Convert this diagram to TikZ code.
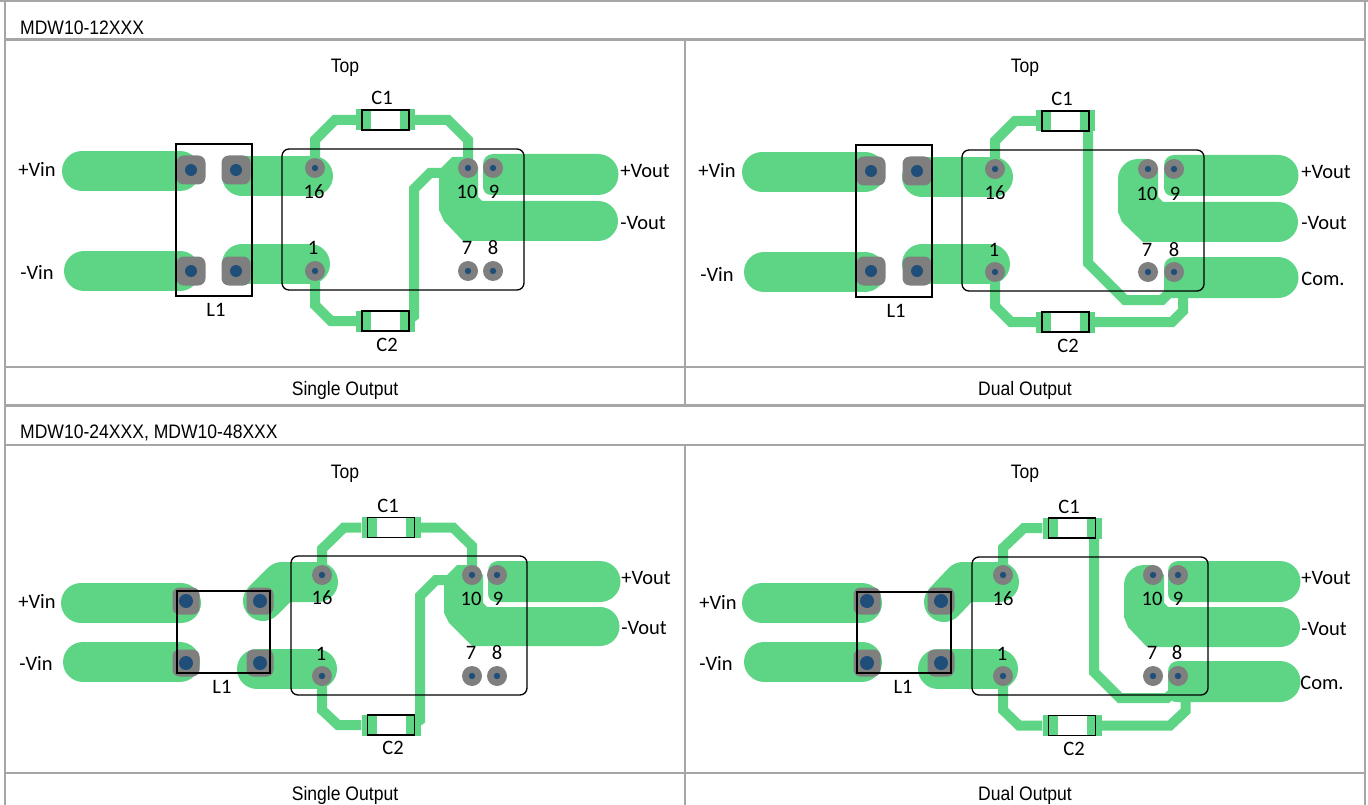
\documentclass[tikz,border=0pt]{standalone}
\usepackage{fontspec}
\usepackage{xcolor}
\setmainfont[FakeStretch=0.9]{Liberation Sans}
\newfontfamily\labelfont{Carlito}
\definecolor{pcbgreen}{HTML}{5DD585}
\definecolor{padgray}{HTML}{7F7F7F}
\definecolor{viablue}{HTML}{1F4E79}
\definecolor{gridgray}{HTML}{A6A6A6}
\tikzset{
  gridline/.style={draw=gridgray, line width=2.2pt},
  tabletext/.style={font=\fontsize{19.5}{21}\selectfont, inner sep=0pt},
  pcblabel/.style={font=\labelfont\fontsize{20.5}{22}\selectfont, inner sep=0pt},
  padtrack/.style={draw=pcbgreen, line width=40pt, line cap=round, line join=round},
  track/.style={draw=pcbgreen, line width=10pt, line join=miter},
  pinpad/.style={circle, fill=padgray, minimum size=20pt, inner sep=0pt},
  sqpad/.style={rectangle, fill=padgray, inner sep=0pt},
  capbody/.style={rectangle, draw=black, line width=1.3pt, minimum width=47pt, minimum height=20pt, inner sep=0pt},
  capend/.style={rectangle, fill=pcbgreen, minimum width=15pt, minimum height=21pt, inner sep=0pt},
  outline/.style={draw=black, line width=1.3pt}
}
\newcommand{\pinhole}[1]{\node[pinpad] (#1p) at (#1) {}; \fill[viablue] (#1p) circle (3.2);}
\newcommand{\padhole}[4]{\node[sqpad, minimum size=#3pt, rounded corners=#3pt/4] (#1) at (#2) {}; \fill[viablue] (#1) circle (#4);}
\newcommand{\capends}[2]{\node[capend, xshift=-22pt] (#1l) at (#2) {}; \node[capend, xshift=22pt] (#1r) at (#2) {};}
\newcommand{\outpad}[3]{\fill[pcbgreen] (#1,#2+10) arc[start angle=180, end angle=270, radius=10] -- (#3,#2) arc[start angle=-90, end angle=90, radius=20.5] -- (#1+8,#2+41) arc[start angle=90, end angle=180, radius=8] -- cycle;}

\begin{document}
\begin{tikzpicture}[x=1pt, y=-1pt]
\useasboundingbox (0,0) rectangle (1368,805);

\coordinate (a16) at (315,168);
\coordinate (a1) at (315,271);
\coordinate (a10) at (468,168);
\coordinate (a9) at (493,168);
\coordinate (a7) at (468,271);
\coordinate (a8) at (493,271);
\coordinate (ac1) at (385.5,120);
\coordinate (ac2) at (385.5,321);
\draw[padtrack] (82,171) -- (180,171);
\draw[padtrack] (84,271) -- (180,271);
\draw[padtrack] (242,176) -- (313,176);
\draw[padtrack] (242,264) -- (310,264);
\capends{ac1}{ac1}
\capends{ac2}{ac2}
\draw[track] (a16) -- (315,140) -- (335,120) -- (ac1l);
\draw[track] (ac1r) -- (448,120) -- (468,140) -- (a10);
\draw[track] (a1) -- (315,305) -- (331,321) -- (ac2l);
\draw[track] (ac2r.center) -- (414,316) -- (414,189) -- (430,173) -- (445,173);
\outpad{483}{154}{598}
\fill[pcbgreen] (478,168) -- (478,197) -- (482,201) -- (598,201) arc[start angle=-90, end angle=90, radius=20] -- (463,241) -- (444,221) -- (439,210) -- (439,170) -- (452,157) -- (468,157) -- cycle;
\foreach \p in {a16,a1,a10,a9,a7,a8} {\pinhole{\p}}
\padhole{apad1}{191,170}{29}{6}
\padhole{apad2}{236,170}{29}{6}
\padhole{apad3}{191,271}{29}{6}
\padhole{apad4}{236,271}{29}{6}
\draw[outline] (176,144) rectangle (252,296);
\draw[outline, rounded corners=7pt] (282,149) rectangle (524,290);
\node[capbody] (ac1b) at (ac1) {};
\node[capbody] (ac2b) at (ac2) {};

\coordinate (b16) at (995,169);
\coordinate (b1) at (995,272);
\coordinate (b10) at (1148,169);
\coordinate (b9) at (1174,169);
\coordinate (b7) at (1148,272);
\coordinate (b8) at (1174,272);
\coordinate (bc1) at (1065.5,121);
\coordinate (bc2) at (1065.5,322);
\draw[padtrack] (762,172) -- (865,172);
\draw[padtrack] (764,272) -- (865,272);
\draw[padtrack] (922,177) -- (993,177);
\draw[padtrack] (922,264) -- (990,264);
\capends{bc1}{bc1}
\capends{bc2}{bc2}
\draw[track] (b16) -- (995,141) -- (1015,121) -- (bc1l);
\draw[track] (bc1r.center) -- (1088,121) -- (1088,263) -- (1125,300) -- (1162,300) -- (1176,286);
\draw[track] (b1) -- (995,306) -- (1011,322) -- (bc2l);
\draw[track] (bc2r.center) -- (1172,322) -- (1183,311) -- (1183,295);
\outpad{1164}{155}{1278}
\outpad{1164}{257}{1278}
\fill[pcbgreen] (1158,169) -- (1158,197) -- (1163,202) -- (1278,202) arc[start angle=-90, end angle=90, radius=20] -- (1143,242) -- (1122,222) -- (1118,212) -- (1118,179) arc[start angle=180, end angle=270, radius=20] -- (1148,159) -- cycle;
\foreach \p in {b16,b1,b10,b9,b7,b8} {\pinhole{\p}}
\padhole{bpad1}{871,171}{29}{6}
\padhole{bpad2}{917,171}{29}{6}
\padhole{bpad3}{871,271}{29}{6}
\padhole{bpad4}{917,271}{29}{6}
\draw[outline] (856,145) rectangle (932,297);
\draw[outline, rounded corners=7pt] (962,150) rectangle (1204,291);
\node[capbody] (bc1b) at (bc1) {};
\node[capbody] (bc2b) at (bc2) {};

\coordinate (c16) at (322,575);
\coordinate (c1) at (322,676);
\coordinate (c10) at (472,575);
\coordinate (c9) at (497,575);
\coordinate (c7) at (472,676);
\coordinate (c8) at (497,676);
\coordinate (cc1) at (391,527.5);
\coordinate (cc2) at (391,725);
\draw[padtrack] (81,603) -- (181,603);
\draw[padtrack] (83,662) -- (180,662);
\draw[padtrack] (263,601) -- (282,582) -- (318,582);
\draw[padtrack] (257,669) -- (317,669);
\capends{cc1}{cc1}
\capends{cc2}{cc2}
\draw[track] (c16) -- (322,549) -- (344,527.5) -- (cc1l);
\draw[track] (cc1r) -- (453,527.5) -- (472,546) -- (c10);
\draw[track] (c1) -- (322,710) -- (338,725) -- (cc2l);
\draw[track] (cc2r.center) -- (420,720) -- (420,596) -- (436,580) -- (450,580);
\outpad{488}{561}{600}
\fill[pcbgreen] (483,575) -- (483,603) -- (487,607) -- (600,607) arc[start angle=-90, end angle=90, radius=19.5] -- (472,646) -- (449,623) -- (444,613) -- (444,585) -- (447,575) -- (457,565) -- (472,565) -- cycle;
\foreach \p in {c16,c1,c10,c9,c7,c8} {\pinhole{\p}}
\padhole{cpad1}{186,601}{27}{7}
\padhole{cpad2}{260,601}{27}{7}
\padhole{cpad3}{186,663}{27}{7}
\padhole{cpad4}{260,663}{27}{7}
\draw[outline] (177,591) rectangle (270,673);
\draw[outline, rounded corners=7pt] (291,556) rectangle (527,695);
\node[capbody] (cc1b) at (cc1) {};
\node[capbody] (cc2b) at (cc2) {};

\coordinate (d16) at (1003,575);
\coordinate (d1) at (1003,676);
\coordinate (d10) at (1153,575);
\coordinate (d9) at (1178,575);
\coordinate (d7) at (1153,676);
\coordinate (d8) at (1178,676);
\coordinate (dc1) at (1072,528);
\coordinate (dc2) at (1072,725.5);
\draw[padtrack] (762,603) -- (862,603);
\draw[padtrack] (764,661.5) -- (862,661.5);
\draw[padtrack] (944,602) -- (963,582) -- (999,582);
\draw[padtrack] (938,669) -- (998,669);
\capends{dc1}{dc1}
\capends{dc2}{dc2}
\draw[track] (d16) -- (1003,548) -- (1024,528) -- (dc1l);
\draw[track] (dc1r.center) -- (1094,528) -- (1094,672) -- (1120,698) -- (1167,698) -- (1176,690);
\draw[track] (d1) -- (1003,710) -- (1019,725.5) -- (dc2l);
\draw[track] (dc2r.center) -- (1170,725.5) -- (1185.5,711) -- (1185.5,695);
\outpad{1168}{561}{1280}
\outpad{1168}{661}{1280}
\fill[pcbgreen] (1164,575) -- (1164,603) -- (1168,607) -- (1280,607) arc[start angle=-90, end angle=90, radius=20] -- (1147,647) -- (1128,627) -- (1124,617) -- (1124,585) arc[start angle=180, end angle=270, radius=20] -- (1153,565) -- cycle;
\foreach \p in {d16,d1,d10,d9,d7,d8} {\pinhole{\p}}
\padhole{dpad1}{867,601}{27}{7}
\padhole{dpad2}{941,601}{27}{7}
\padhole{dpad3}{867,663}{27}{7}
\padhole{dpad4}{941,663}{27}{7}
\draw[outline] (857,592) rectangle (951,673);
\draw[outline, rounded corners=7pt] (972,557) rectangle (1208,695);
\node[capbody] (dc1b) at (dc1) {};
\node[capbody] (dc2b) at (dc2) {};

\draw[gridline] (0,0.5) -- (1368,0.5);
\draw[gridline] (5,0) -- (5,805);
\draw[gridline] (1365,0) -- (1365,805);
\draw[gridline] (5,39.5) -- (1365,39.5);
\draw[gridline] (5,367) -- (1365,367);
\draw[gridline] (5,405.5) -- (1365,405.5);
\draw[gridline] (5,445) -- (1365,445);
\draw[gridline] (5,773) -- (1365,773);
\draw[gridline] (685,39.5) -- (685,405.5);
\draw[gridline] (685,445) -- (685,805);

\node[tabletext, anchor=west] (title1) at (20,27.5) {MDW10-12XXX};
\node[tabletext, anchor=west] (title2) at (20,432.5) {MDW10-24XXX, MDW10-48XXX};
\node[tabletext] (atop) at (345,68) {Top};
\node[tabletext] (btop) at (1025,68) {Top};
\node[tabletext] (ctop) at (345,474) {Top};
\node[tabletext] (dtop) at (1025,474) {Top};
\node[tabletext] (acap) at (345,390) {Single Output};
\node[tabletext] (bcap) at (1025,390) {Dual Output};
\node[tabletext] (ccap) at (345,795) {Single Output};
\node[tabletext] (dcap) at (1025,795) {Dual Output};

\node[pcblabel] (avp) at (37,169) {+Vin};
\node[pcblabel] (avn) at (37,272) {-Vin};
\node[pcblabel] (al1) at (216,310) {L1};
\node[pcblabel] (acc1) at (382,98) {C1};
\node[pcblabel] (acc2) at (387,345) {C2};
\node[pcblabel] (aop) at (645,171) {+Vout};
\node[pcblabel] (aon) at (643,223) {-Vout};
\node[pcblabel] (an16) at (314,192) {16};
\node[pcblabel] (an1) at (313,248) {1};
\node[pcblabel] (an10) at (467,192) {10};
\node[pcblabel] (an9) at (494,192) {9};
\node[pcblabel] (an7) at (467,248) {7};
\node[pcblabel] (an8) at (493,248) {8};

\node[pcblabel] (bvp) at (717,170) {+Vin};
\node[pcblabel] (bvn) at (717,274) {-Vin};
\node[pcblabel] (bl1) at (896,311) {L1};
\node[pcblabel] (bcc1) at (1062,99) {C1};
\node[pcblabel] (bcc2) at (1068,346) {C2};
\node[pcblabel] (bop) at (1326,172) {+Vout};
\node[pcblabel] (bon) at (1324,223) {-Vout};
\node[pcblabel] (bcom) at (1323,279) {Com.};
\node[pcblabel] (bn16) at (995,193) {16};
\node[pcblabel] (bn1) at (994,250) {1};
\node[pcblabel] (bn10) at (1147,194) {10};
\node[pcblabel] (bn9) at (1175,194) {9};
\node[pcblabel] (bn7) at (1147,250) {7};
\node[pcblabel] (bn8) at (1174,250) {8};

\node[pcblabel] (cvp) at (37,601) {+Vin};
\node[pcblabel] (cvn) at (36,663) {-Vin};
\node[pcblabel] (cl1) at (222,687) {L1};
\node[pcblabel] (ccc1) at (388,506) {C1};
\node[pcblabel] (ccc2) at (393,748) {C2};
\node[pcblabel] (cop) at (646,578) {+Vout};
\node[pcblabel] (con) at (644,628) {-Vout};
\node[pcblabel] (cn16) at (322,598) {16};
\node[pcblabel] (cn1) at (321,654) {1};
\node[pcblabel] (cn10) at (471,599) {10};
\node[pcblabel] (cn9) at (498,599) {9};
\node[pcblabel] (cn7) at (471,653) {7};
\node[pcblabel] (cn8) at (497,653) {8};

\node[pcblabel] (dvp) at (718,602) {+Vin};
\node[pcblabel] (dvn) at (716,663) {-Vin};
\node[pcblabel] (dl1) at (903,687) {L1};
\node[pcblabel] (dcc1) at (1069,507) {C1};
\node[pcblabel] (dcc2) at (1074,749) {C2};
\node[pcblabel] (dop) at (1326,578) {+Vout};
\node[pcblabel] (don) at (1324,629) {-Vout};
\node[pcblabel] (dcom) at (1322,683) {Com.};
\node[pcblabel] (dn16) at (1003,599) {16};
\node[pcblabel] (dn1) at (1002,654) {1};
\node[pcblabel] (dn10) at (1152,599) {10};
\node[pcblabel] (dn9) at (1178,599) {9};
\node[pcblabel] (dn7) at (1152,653) {7};
\node[pcblabel] (dn8) at (1177,653) {8};
\end{tikzpicture}
\end{document}
